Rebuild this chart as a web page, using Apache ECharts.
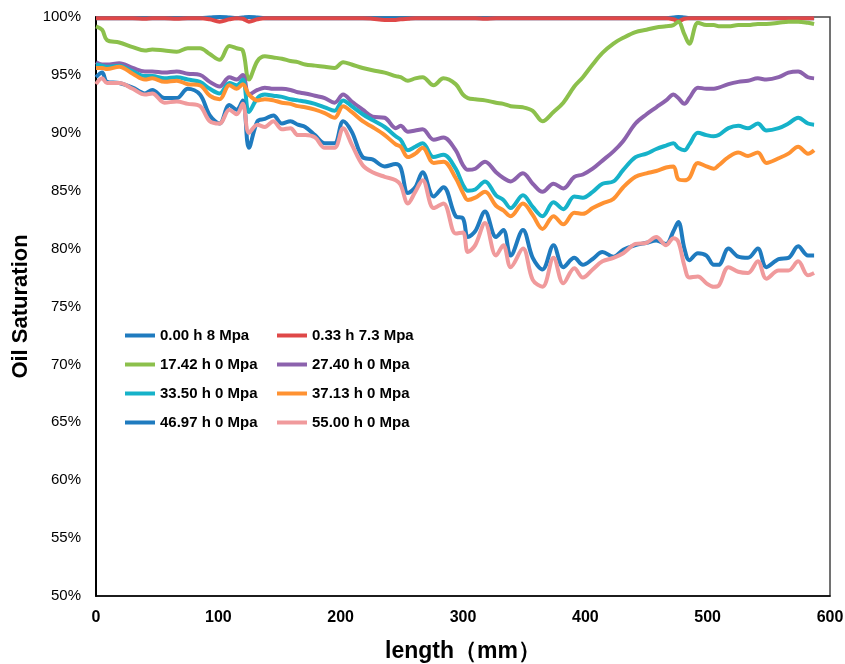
<!DOCTYPE html>
<html>
<head>
<meta charset="utf-8">
<script src="https://cdn.jsdelivr.net/npm/echarts@6/dist/echarts.min.js"></script>
<style>html,body{margin:0;padding:0;background:#fff;}#c{width:845px;height:664px;}</style>
</head>
<body>
<div id="c"></div>
<script>
const lengthMm = [0,5,9,19,30,40,46,56,66,75,85,93,101,109,115,120,125,132,138,145,152,159,165,171,179,187,195,202,209,218,226,236,245,249,255,261,267,276,284,294,300,304,310,318,327,333,339,349,357,365,374,382,391,398,406,414,423,431,441,450,458,466,472,476,481,485,492,499,505,509,517,525,533,541,548,558,566,574,582,587];

const seriesNames = ['0.00 h 8 Mpa','0.33 h 7.3 Mpa','17.42 h 0 Mpa','27.40 h 0 Mpa','33.50 h 0 Mpa','37.13 h 0 Mpa','46.97 h 0 Mpa','55.00 h 0 Mpa'];

const s000h = [99.9,99.9,99.9,99.9,99.9,99.9,99.9,99.9,99.9,99.9,
  99.9,99.95,100,99.95,99.9,99.95,100,99.95,99.9,99.9,
  99.9,99.9,99.9,99.9,99.9,99.9,99.9,99.9,99.9,99.9,
  99.9,99.9,99.9,99.9,99.9,99.9,99.9,99.9,99.9,99.9,
  99.9,99.9,99.9,99.9,99.9,99.9,99.9,99.9,99.9,99.9,
  99.9,99.9,99.9,99.9,99.9,99.9,99.9,99.9,99.9,99.9,
  99.9,99.9,99.95,100,99.95,99.9,99.9,99.9,99.9,99.9,
  99.9,99.9,99.9,99.9,99.9,99.9,99.9,99.9,99.9,99.9];
const s033h = [99.9,99.9,99.9,99.9,99.9,99.85,99.9,99.9,99.85,99.9,
  99.9,99.8,99.6,99.8,99.9,99.85,99.6,99.8,99.9,99.9,
  99.9,99.9,99.9,99.9,99.9,99.9,99.9,99.9,99.9,99.9,
  99.85,99.75,99.75,99.8,99.85,99.9,99.9,99.9,99.9,99.9,
  99.9,99.9,99.9,99.85,99.9,99.9,99.9,99.9,99.9,99.9,
  99.9,99.9,99.9,99.9,99.9,99.9,99.9,99.9,99.9,99.9,
  99.9,99.9,99.8,99.65,99.85,99.9,99.9,99.9,99.9,99.9,
  99.9,99.9,99.9,99.9,99.9,99.9,99.9,99.9,99.9,99.9];
const s1742h = [99.2,98.9,98.0,97.8,97.4,97.1,97.2,97.1,97.0,97.3,
  97.3,96.8,96.3,97.5,97.3,97.1,94.6,96.2,96.6,96.5,
  96.4,96.2,96.1,95.9,95.8,95.7,95.6,96.1,95.9,95.6,
  95.4,95.2,94.9,94.8,94.5,94.7,94.8,94.1,94.7,94.2,
  93.3,93.0,92.9,92.8,92.6,92.5,92.3,92.2,91.9,91.0,
  91.8,92.6,94.0,94.8,95.9,96.9,97.7,98.2,98.7,98.9,
  99.1,99.2,99.3,99.6,98.5,97.7,99.5,99.3,99.3,99.2,
  99.2,99.3,99.3,99.4,99.4,99.5,99.6,99.6,99.5,99.4];
const s2740h = [96.1,95.9,95.9,96.0,95.6,95.3,95.3,95.2,95.3,95.1,
  95.0,94.4,94.0,94.8,94.6,95.0,93.3,93.7,93.9,93.8,
  93.8,93.7,93.5,93.4,93.2,93.0,92.6,93.3,92.7,92.0,
  91.4,91.3,90.4,90.6,90.1,90.2,90.3,89.4,89.6,88.5,
  87.2,86.8,86.9,87.5,86.6,86.1,85.8,86.5,85.6,84.9,
  85.6,85.2,86.2,86.4,86.9,87.6,88.4,89.3,90.8,91.6,
  92.2,92.8,93.3,93.0,92.5,93.0,93.9,93.8,93.8,93.9,
  94.2,94.4,94.5,94.7,94.6,94.8,95.2,95.3,94.8,94.7];
const s3350h = [95.9,95.8,95.7,95.8,95.3,94.9,94.9,94.7,94.8,94.6,
  94.4,93.8,93.4,94.3,94.1,94.6,91.8,93.0,93.3,93.2,
  93.1,92.9,92.8,92.7,92.5,92.2,91.9,92.8,92.3,91.6,
  91.1,90.5,89.7,89.4,88.5,88.8,89.1,87.9,88.1,86.9,
  85.5,85.0,85.1,85.8,84.6,84.2,83.5,84.6,83.6,82.8,
  84.0,83.4,84.5,84.4,84.9,85.6,85.8,86.8,87.9,88.2,
  88.6,88.9,89.1,88.7,88.5,89.0,90.0,89.8,89.7,89.8,
  90.4,90.6,90.4,90.8,90.2,90.4,90.8,91.3,90.8,90.7];
const s3713h = [95.6,95.6,95.5,95.7,95.1,94.6,94.7,94.4,94.5,94.2,
  94.1,93.2,92.9,94.1,93.8,94.2,93.3,92.8,92.9,92.8,
  92.6,92.5,92.3,92.2,92.0,91.7,91.3,92.3,91.8,91.0,
  90.5,89.8,89.0,88.8,87.9,88.2,88.7,87.4,87.5,86.1,
  84.8,84.2,84.4,84.9,83.7,83.3,82.8,83.9,82.9,81.7,
  82.8,82.1,83.1,83.0,83.5,83.9,84.3,85.3,86.2,86.5,
  86.7,87.0,87.1,86.0,85.9,86.1,87.4,87.1,86.9,87.2,
  87.9,88.3,88.0,88.3,87.4,87.8,88.2,88.8,88.2,88.5];
const s4697h = [94.8,95.2,94.4,94.3,93.9,93.4,93.7,93.0,93.0,93.8,
  93.3,91.5,90.8,92.4,92.0,92.8,88.7,91.0,91.2,91.5,
  90.8,91.0,90.7,90.5,89.8,89.1,89.1,91.0,90.1,87.9,
  87.7,87.1,87.3,87.0,84.8,85.3,86.6,84.5,85.3,82.8,
  82.6,81.0,81.5,83.2,81.0,81.6,79.4,81.6,79.2,78.2,
  80.3,78.4,79.2,78.6,79.1,79.7,79.3,79.9,80.3,80.5,
  80.7,80.4,81.5,82.3,80.0,79.0,79.6,79.4,78.6,78.6,
  80.0,79.3,79.2,80.0,78.4,79.1,79.2,80.2,79.4,79.4];
const s5500h = [94.2,94.7,94.3,94.3,93.8,93.3,93.4,92.6,92.7,92.5,
  92.3,91.0,90.8,92.0,91.6,92.5,90.0,90.7,90.5,91.0,
  90.3,90.4,89.8,89.8,89.6,88.7,88.7,90.4,89.0,87.2,
  86.6,86.2,85.9,85.5,83.9,84.9,85.9,83.5,83.9,81.3,
  81.4,79.7,80.3,82.2,79.4,80.3,78.4,80.0,77.3,76.7,
  79.2,77.0,78.3,77.5,78.2,78.9,79.2,79.6,80.4,80.5,
  81.0,80.3,80.9,80.6,78.5,77.5,77.6,77.0,76.7,76.8,
  78.4,78.0,77.9,78.9,77.4,78.1,78.1,78.9,77.7,77.9];

const yTicks = [50,55,60,65,70,75,80,85,90,95,100];
const xTicks = [0,100,200,300,400,500,600];

const allValues = [s000h,s033h,s1742h,s2740h,s3350h,s3713h,s4697h,s5500h];
const colors = ['#1f7bbf','#df4848','#8cc04c','#8c62ad','#16b2c9','#ff9232','#1f7bbf','#f09a9c'];

const chart = echarts.init(document.getElementById('c'), null, {renderer:'canvas'});
const legendText = {fontFamily:'Liberation Sans, Arial, sans-serif', fontWeight:'bold', fontSize:15, color:'#000'};
const option = {
  animation:false,
  backgroundColor:'#fff',
  grid:{left:96, right:15, top:17, bottom:68, outerBoundsMode:'none', containLabel:false, show:true, borderColor:'#444', borderWidth:1.5, backgroundColor:'transparent'},
  legend:[
    {orient:'vertical', left:120, top:323, itemGap:14, itemWidth:30, itemHeight:4, icon:'rect',
     data:[seriesNames[0],seriesNames[2],seriesNames[4],seriesNames[6]], textStyle:legendText},
    {orient:'vertical', left:272, top:323, itemGap:14, itemWidth:30, itemHeight:4, icon:'rect',
     data:[seriesNames[1],seriesNames[3],seriesNames[5],seriesNames[7]], textStyle:legendText}
  ],
  xAxis:{type:'value', min:xTicks[0], max:xTicks[xTicks.length-1], interval:100,
    name:'length（mm）', nameLocation:'middle', nameGap:44,
    nameTextStyle:{fontFamily:'Liberation Sans, Arial, sans-serif', fontWeight:'bold', fontSize:23, color:'#000'},
    axisLine:{show:true, lineStyle:{color:'#000', width:1.5}},
    axisTick:{show:false}, splitLine:{show:false},
    axisLabel:{margin:14, fontFamily:'Liberation Sans Narrow, Liberation Sans, Arial, sans-serif', fontWeight:'bold', fontSize:16, color:'#000'}},
  yAxis:{type:'value', min:yTicks[0], max:yTicks[yTicks.length-1], interval:5,
    name:'Oil Saturation', nameLocation:'middle', nameGap:58,
    nameTextStyle:{fontFamily:'Liberation Sans, Arial, sans-serif', fontWeight:'bold', fontSize:22, color:'#000'},
    axisLine:{show:true, lineStyle:{color:'#000', width:2}},
    axisTick:{show:false}, splitLine:{show:false},
    axisLabel:{margin:15, formatter:'{value}%', fontFamily:'Liberation Sans, Arial, sans-serif', fontSize:15, color:'#000'}},
  series: allValues.map((vals, i) => ({
    name: seriesNames[i], type:'line', smooth:0.35, symbol:'none', clip:true,
    color: colors[i],
    lineStyle:{width:4, color:colors[i]},
    data: lengthMm.map((x, j) => [x, vals[j]])
  }))
};
chart.setOption(option);
</script>
</body>
</html>
